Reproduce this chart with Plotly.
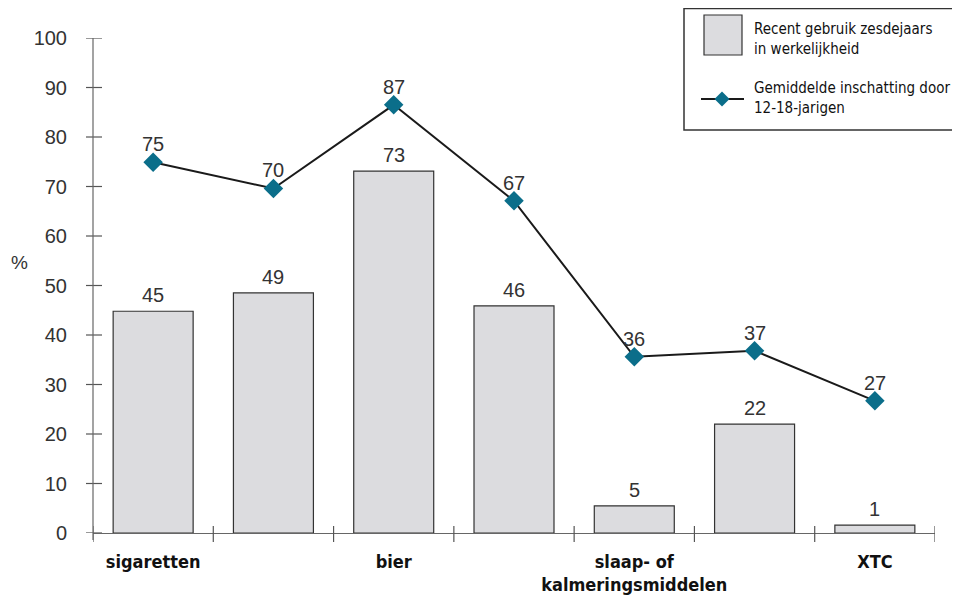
import plotly.graph_objects as go

# ---- data ----
categories = ["sigaretten", "", "bier", "", "slaap- of<br>kalmeringsmiddelen", "", "XTC"]
bar_values = [44.8, 48.5, 73.1, 45.9, 5.5, 22.0, 1.6]
bar_labels = ["45", "49", "73", "46", "5", "22", "1"]
line_values = [74.9, 69.6, 86.5, 67.1, 35.6, 36.8, 26.7]
line_labels = ["75", "70", "87", "67", "36", "37", "27"]
y_ticks = [0, 10, 20, 30, 40, 50, 60, 70, 80, 90, 100]
bar_name = "Recent gebruik zesdejaars<br>in werkelijkheid"
line_name = "Gemiddelde inschatting door<br>12-18-jarigen"

NARROW = "Liberation Sans Narrow, Arial Narrow, DejaVu Sans Condensed, sans-serif"
NUMFONT = "Liberation Sans, Arial, sans-serif"

BAR_FILL = "#dcdcdf"
EDGE = "#333333"
TEAL = "#0b6e8a"

W, H = 960, 602
OFF = 8  # page body margin
L, R, T, B = 85, 33, 30, 77
PW, PH = W - L - R, H - T - B

x = list(range(len(categories)))

fig = go.Figure()
fig.add_trace(go.Bar(
    x=x, y=bar_values, width=0.665,
    marker=dict(color=BAR_FILL, line=dict(color=EDGE, width=1.2)),
    name=bar_name, showlegend=False, hoverinfo="y",
))
fig.add_trace(go.Scatter(
    x=x, y=line_values, mode="lines+markers",
    line=dict(color="#1a1a1a", width=2),
    marker=dict(symbol="diamond", size=15, color=TEAL, line=dict(width=0)),
    cliponaxis=False, name=line_name, showlegend=False,
))

annotations = []
for xi, v, t in zip(x, bar_values, bar_labels):
    annotations.append(dict(x=xi, y=v, xref="x", yref="y", text=t, showarrow=False,
                            yanchor="bottom", yshift=3,
                            font=dict(family=NUMFONT, size=20, color="#333333")))
for xi, v, t in zip(x, line_values, line_labels):
    annotations.append(dict(x=xi, y=v, xref="x", yref="y", text=t, showarrow=False,
                            yanchor="bottom", yshift=5,
                            font=dict(family=NUMFONT, size=20, color="#333333")))

shapes = []
# crossing tick marks on x axis at category boundaries
for i in range(len(categories) + 1):
    shapes.append(dict(type="line", xref="x", yref="paper",
                       x0=i - 0.5, x1=i - 0.5, y0=-9 / PH, y1=7 / PH,
                       line=dict(color="#555555", width=1.2)))
# crossing tick marks on y axis
for v in y_ticks:
    shapes.append(dict(type="line", xref="paper", yref="y",
                       x0=-7 / PW, x1=9 / PW, y0=v, y1=v,
                       line=dict(color="#555555", width=1.2)))
# y axis line slightly extended below zero
shapes.append(dict(type="line", xref="paper", yref="paper",
                   x0=0, x1=0, y0=-7 / PH, y1=1,
                   line=dict(color="#666666", width=1.2)))


def px(sx):
    return (sx - OFF - L) / PW


def py(sy):
    return (H - B - (sy - OFF)) / PH


# legend box
shapes.append(dict(type="rect", xref="paper", yref="paper",
                   x0=px(684), x1=px(990), y0=py(130), y1=py(8.5),
                   line=dict(color="#333333", width=1.5), fillcolor="white", layer="above"))
shapes.append(dict(type="rect", xref="paper", yref="paper",
                   x0=px(704), x1=px(742), y0=py(55), y1=py(15),
                   line=dict(color=EDGE, width=1.2), fillcolor=BAR_FILL, layer="above"))
shapes.append(dict(type="line", xref="paper", yref="paper",
                   x0=px(701), x1=px(744), y0=py(99), y1=py(99),
                   line=dict(color="#1a1a1a", width=2), layer="above"))
cx, cy, r = 722, 99, 7.5
shapes.append(dict(type="path", xref="paper", yref="paper",
                   path=f"M {px(cx - r)} {py(cy)} L {px(cx)} {py(cy - r)} L {px(cx + r)} {py(cy)} L {px(cx)} {py(cy + r)} Z",
                   fillcolor=TEAL, line=dict(width=0), layer="above"))

annotations += [
    dict(text="%", xref="paper", yref="paper", x=px(19), y=py(262),
         showarrow=False, font=dict(family=NUMFONT, size=19, color="#333333"),
         xanchor="center", yanchor="middle"),
    dict(text=bar_name, xref="paper", yref="paper", x=px(752), y=py(38.5),
         showarrow=False, align="left", xanchor="left", yanchor="middle",
         font=dict(family=NARROW, size=15, color="#111111")),
    dict(text=line_name, xref="paper", yref="paper", x=px(752), y=py(97.5),
         showarrow=False, align="left", xanchor="left", yanchor="middle",
         font=dict(family=NARROW, size=15, color="#111111")),
]

fig.update_layout(
    width=W, height=H,
    margin=dict(l=L, r=R, t=T, b=B, autoexpand=False),
    paper_bgcolor="white", plot_bgcolor="white",
    showlegend=False,
    shapes=shapes, annotations=annotations,
    xaxis=dict(range=[-0.5, len(categories) - 0.5], tickmode="array",
               tickvals=x, ticktext=[f"<b>{c}</b>" if c else "" for c in categories],
               ticks="", showgrid=False, zeroline=False,
               showline=True, linecolor="#666666", linewidth=1.2,
               tickfont=dict(family=NARROW, size=18, color="#111111"),
               ticklabelstandoff=12),
    yaxis=dict(range=[0, 100], tickmode="array", tickvals=y_ticks,
               ticks="", showgrid=False, zeroline=False, showline=False,
               tickfont=dict(family=NUMFONT, size=20, color="#333333"),
               ticklabelstandoff=25),
)

fig.write_html("out.html")
